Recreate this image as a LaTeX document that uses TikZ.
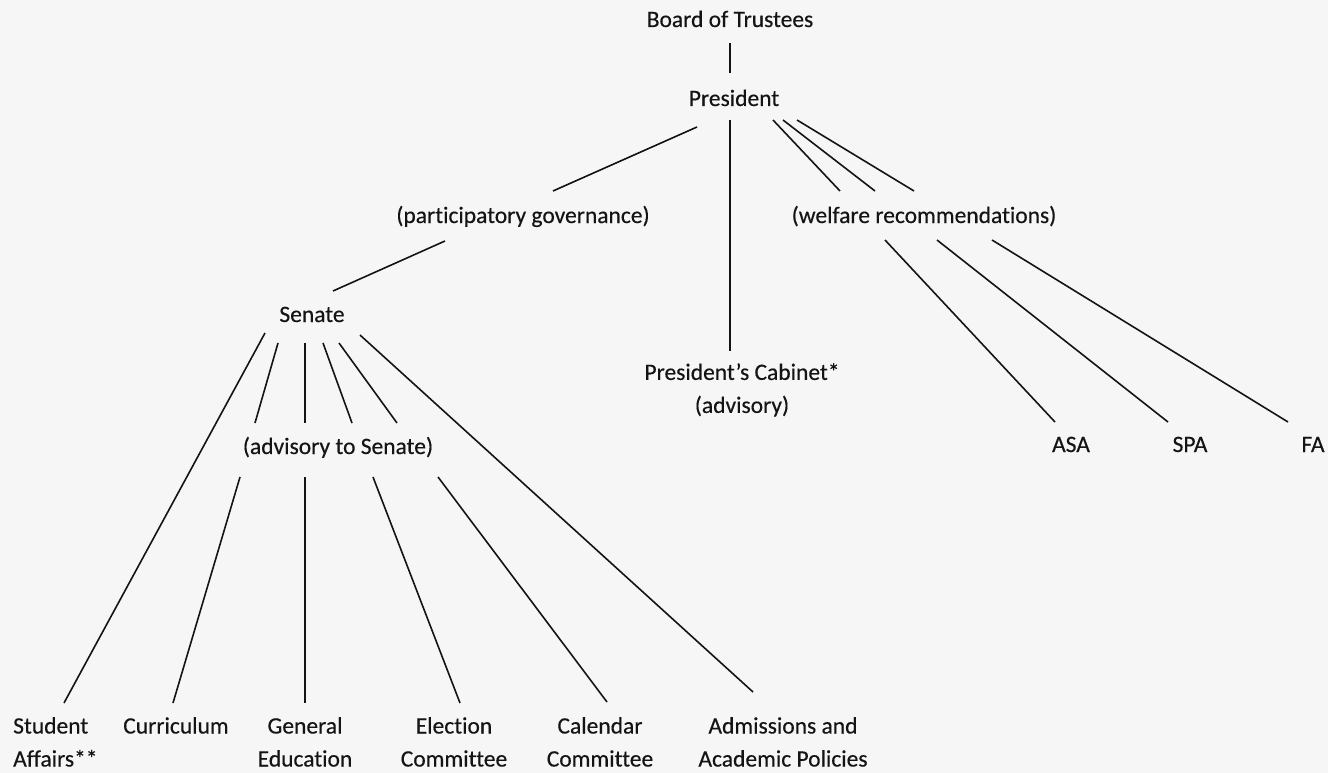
\documentclass[tikz,border=0pt]{standalone}
\usepackage{fontspec}
\setmainfont{Carlito}[Ligatures={NoCommon}, FakeBold=0.35]
\definecolor{ink}{RGB}{20,20,20}
\definecolor{paper}{RGB}{246,246,246}
\begin{document}
\begin{tikzpicture}[x=1pt,y=-1pt,
  every node/.style={inner sep=0pt, font=\fontsize{23.5}{33}\selectfont, text=ink},
  lbl/.style={anchor=base},
  botlbl/.style={anchor=north, align=center},
  conn/.style={line width=1.6pt, draw=ink}]
\fill[paper] (0,0) rectangle (1328,773);
\useasboundingbox (0,0) rectangle (1328,773);

% nodes
\node[lbl] (bot) at (730,27) {Board of Trustees};
\node[lbl] (pres) at (734,106) {President};
\node[lbl] (pg) at (523,223) {(participatory governance)};
\node[lbl] (wr) at (924,223) {(welfare recommendations)};
\node[lbl] (sen) at (312,322) {Senate};
\node[botlbl, align=center] (cab) at (742,363) {President's Cabinet*\\(advisory)};
\node[lbl] (adv) at (338,454) {(advisory to Senate)};
\node[lbl] (asa) at (1071,452) {ASA};
\node[lbl] (spa) at (1190,452) {SPA};
\node[lbl] (fa) at (1313,452) {FA};
\node[anchor=north west, align=left] (sa) at (13,717) {Student\\Affairs**};
\node[botlbl] (cur) at (176,717) {Curriculum};
\node[botlbl] (ge) at (305,717) {General\\Education};
\node[botlbl] (ec) at (454,717) {Election\\Committee};
\node[botlbl] (cc) at (600,717) {Calendar\\Committee};
\node[botlbl] (aap) at (783,717) {Admissions and\\Academic Policies};

% connector end points
\coordinate (bot-a) at (730,43);   \coordinate (pres-a) at (730,73);
\coordinate (pres-pg) at (697,127); \coordinate (pg-top) at (553,191);
\coordinate (pres-cab) at (730,120); \coordinate (cab-top) at (730,351);
\coordinate (pres-w1) at (773,120); \coordinate (wr-t1) at (840,191);
\coordinate (pres-w2) at (783,120); \coordinate (wr-t2) at (875,191);
\coordinate (pres-w3) at (797,120); \coordinate (wr-t3) at (914,191);
\coordinate (pg-bot) at (445,241); \coordinate (sen-top) at (333,291);
\coordinate (sen-sa) at (265,333); \coordinate (sa-top) at (64,703);
\coordinate (sen-a1) at (278,343); \coordinate (adv-t1) at (255,423);
\coordinate (sen-a2) at (305,343); \coordinate (adv-t2) at (305,423);
\coordinate (sen-a3) at (323,343); \coordinate (adv-t3) at (352,423);
\coordinate (sen-a4) at (339,343); \coordinate (adv-t4) at (397,423);
\coordinate (sen-aap) at (360,335); \coordinate (aap-top) at (753,692);
\coordinate (adv-cur) at (240,477); \coordinate (cur-top) at (173,703);
\coordinate (adv-ge) at (305,477); \coordinate (ge-top) at (305,703);
\coordinate (adv-ec) at (373,477); \coordinate (ec-top) at (460,703);
\coordinate (adv-cc) at (438,477); \coordinate (cc-top) at (607,702);
\coordinate (wr-asa) at (885,240); \coordinate (asa-top) at (1055,422);
\coordinate (wr-spa) at (937,240); \coordinate (spa-top) at (1168,422);
\coordinate (wr-fa) at (992,240); \coordinate (fa-top) at (1288,422);

% connectors
\draw[conn] (bot-a) -- (pres-a);
\draw[conn] (pres-pg) -- (pg-top);
\draw[conn] (pres-cab) -- (cab-top);
\draw[conn] (pres-w1) -- (wr-t1);
\draw[conn] (pres-w2) -- (wr-t2);
\draw[conn] (pres-w3) -- (wr-t3);
\draw[conn] (pg-bot) -- (sen-top);
\draw[conn] (sen-sa) -- (sa-top);
\draw[conn] (sen-a1) -- (adv-t1);
\draw[conn] (sen-a2) -- (adv-t2);
\draw[conn] (sen-a3) -- (adv-t3);
\draw[conn] (sen-a4) -- (adv-t4);
\draw[conn] (sen-aap) -- (aap-top);
\draw[conn] (adv-cur) -- (cur-top);
\draw[conn] (adv-ge) -- (ge-top);
\draw[conn] (adv-ec) -- (ec-top);
\draw[conn] (adv-cc) -- (cc-top);
\draw[conn] (wr-asa) -- (asa-top);
\draw[conn] (wr-spa) -- (spa-top);
\draw[conn] (wr-fa) -- (fa-top);
\end{tikzpicture}
\end{document}
